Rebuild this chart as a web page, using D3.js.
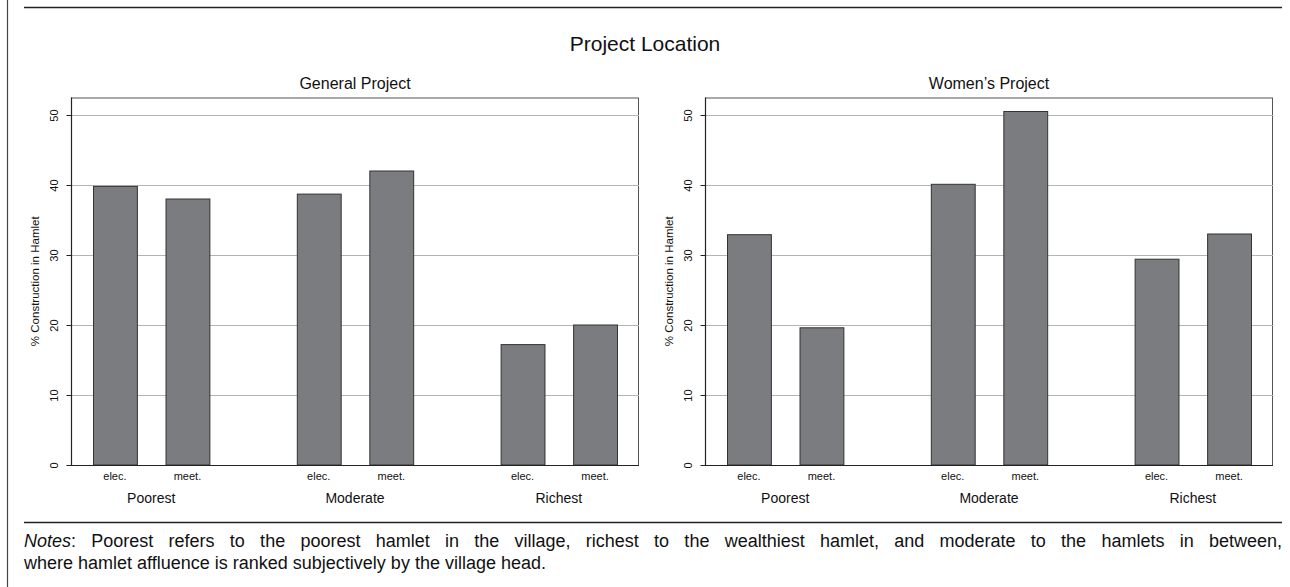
<!DOCTYPE html>
<html>
<head>
<meta charset="utf-8">
<script src="https://cdn.jsdelivr.net/npm/d3@7"></script>
<style>
  html, body { margin: 0; padding: 0; background: #fff; }
  svg { display: block; font-family: "Liberation Sans", Arial, Helvetica, sans-serif; }
</style>
</head>
<body>
<svg id="chart" width="1290" height="587"></svg>
<script>
// ---- Data ----
const groups = ["Poorest", "Moderate", "Richest"];
const measures = ["elec.", "meet."];
const panelTitles = ["General Project", "Women\u2019s Project"];
const generalValues = [39.8, 38.0, 38.7, 42.0, 17.2, 20.0];
const womenValues = [32.9, 19.6, 40.1, 50.5, 29.4, 33.0];
const yTicks = [0, 10, 20, 30, 40, 50];
const mainTitle = "Project Location";
const yTitle = "% Construction in Hamlet";
const notesLead = "Notes";
const notesLine1 = ": Poorest refers to the poorest hamlet in the village, richest to the wealthiest hamlet, and moderate to the hamlets in between,";
const notesLine2 = "where hamlet affluence is ranked subjectively by the village head.";

const svg = d3.select("#chart");

// Outer decorations
svg.append("line").attr("x1", 7.5).attr("x2", 7.5).attr("y1", 0).attr("y2", 587)
  .attr("stroke", "#444").attr("stroke-width", 1.2);
svg.append("line").attr("x1", 24).attr("x2", 1282).attr("y1", 7.5).attr("y2", 7.5)
  .attr("stroke", "#222").attr("stroke-width", 1.5);
svg.append("line").attr("x1", 24).attr("x2", 1282).attr("y1", 522.5).attr("y2", 522.5)
  .attr("stroke", "#222").attr("stroke-width", 1.5);

svg.append("text").attr("x", 645).attr("y", 51).attr("text-anchor", "middle")
  .attr("font-size", 21).attr("fill", "#111").text(mainTitle);

const y = d3.scaleLinear().domain([0, 52.5]).range([465, 97.5]);
const plotW = 568;
const panelLefts = [71, 705];
const panelData = [generalValues, womenValues];

panelData.forEach((vals, pi) => {
  const left = panelLefts[pi];
  const g = svg.append("g");
  const xg = d3.scaleBand().domain(groups).range([left, left + plotW])
    .paddingInner(0.429).paddingOuter(0.108);
  const xb = d3.scaleBand().domain(measures).range([0, xg.bandwidth()]).paddingInner(0.395).paddingOuter(0);

  // plot frame
  g.append("rect").attr("x", left + 0.5).attr("y", y.range()[1] + 0.5)
    .attr("width", plotW - 1).attr("height", y.range()[0] - y.range()[1])
    .attr("fill", "none").attr("stroke", "#555").attr("stroke-width", 1);

  // gridlines
  g.selectAll("line.grid").data(yTicks.filter(d => d > 0)).join("line")
    .attr("x1", left).attr("x2", left + plotW)
    .attr("y1", d => Math.round(y(d)) + 0.5).attr("y2", d => Math.round(y(d)) + 0.5)
    .attr("stroke", "#b4b4b4").attr("stroke-width", 1);

  // bars
  const rows = [];
  groups.forEach((gr, gi) => measures.forEach((m, mi) => rows.push({ gr, m, v: vals[gi * 2 + mi] })));
  g.selectAll("rect.bar").data(rows).join("rect")
    .attr("x", d => xg(d.gr) + xb(d.m) + 0.5)
    .attr("y", d => y(d.v))
    .attr("width", xb.bandwidth())
    .attr("height", d => y(0) - y(d.v))
    .attr("fill", "#7b7c80").attr("stroke", "#333").attr("stroke-width", 1);

  // y axis
  const ya = g.append("g").attr("transform", `translate(${left + 0.5},0)`)
    .call(d3.axisLeft(y).tickValues(yTicks).tickSize(5).tickSizeOuter(0).tickPadding(3));
  ya.select(".domain").remove();
  ya.selectAll(".tick line").attr("stroke", "#222");
  ya.selectAll(".tick text").attr("font-size", 11).attr("fill", "#111")
    .attr("text-anchor", "middle")
    .attr("transform", "translate(-14,0) rotate(-90)")
    .attr("x", 0).attr("y", 0).attr("dy", "0");
  // axis lines
  g.append("line").attr("x1", left + 0.5).attr("x2", left + 0.5)
    .attr("y1", y.range()[1]).attr("y2", y(0)).attr("stroke", "#222").attr("stroke-width", 1.2);
  g.append("line").attr("x1", left).attr("x2", left + plotW)
    .attr("y1", y(0) + 0.5).attr("y2", y(0) + 0.5).attr("stroke", "#222").attr("stroke-width", 1.2);

  // y title
  g.append("text").attr("transform", `translate(${left - 32},${(y.range()[0] + y.range()[1]) / 2}) rotate(-90)`)
    .attr("text-anchor", "middle").attr("font-size", 11.5).attr("fill", "#111").text(yTitle);

  // panel title
  g.append("text").attr("x", left + plotW / 2).attr("y", 89).attr("text-anchor", "middle")
    .attr("font-size", 16).attr("fill", "#111").text(panelTitles[pi]);

  // x labels
  g.selectAll("text.mlab").data(rows).join("text")
    .attr("x", d => xg(d.gr) + xb(d.m) + xb.bandwidth() / 2)
    .attr("y", 480).attr("text-anchor", "middle").attr("font-size", 11).attr("fill", "#111")
    .text(d => d.m);
  g.selectAll("text.glab").data(groups).join("text")
    .attr("x", d => xg(d) + xg.bandwidth() / 2)
    .attr("y", 503).attr("text-anchor", "middle").attr("font-size", 14).attr("fill", "#111")
    .text(d => d);
});

// Notes
const n1 = svg.append("text").attr("x", 24).attr("y", 547).attr("font-size", 18).attr("fill", "#111");
n1.append("tspan").attr("font-style", "italic").text(notesLead);
n1.append("tspan").text(notesLine1);
const natural = n1.node().getComputedTextLength();
const spaces = (notesLead + notesLine1).split(" ").length - 1;
n1.attr("word-spacing", Math.max(0, (1282 - 24 - natural) / spaces));
svg.append("text").attr("x", 24).attr("y", 569).attr("font-size", 18).attr("fill", "#111").text(notesLine2);
</script>
</body>
</html>
